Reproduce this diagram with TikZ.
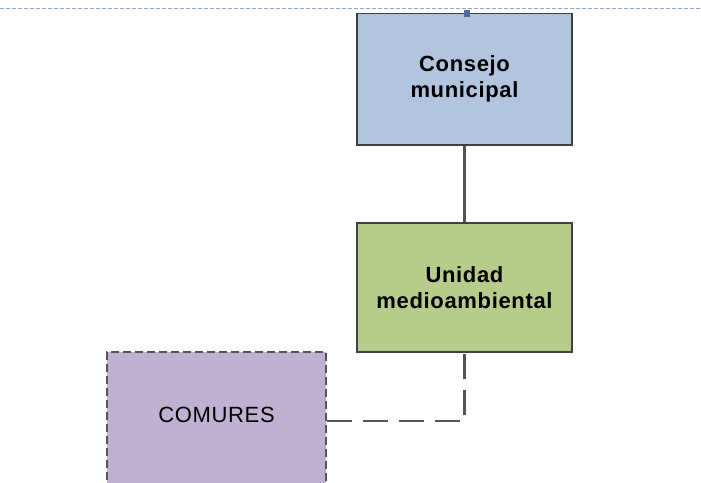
\documentclass[tikz,border=0pt]{standalone}
\usepackage{fontspec}
\setmainfont{Liberation Sans}[LetterSpace=3]
\definecolor{consejofill}{HTML}{B3C5DE}
\definecolor{unidadfill}{HTML}{B7CB8A}
\definecolor{comuresfill}{HTML}{BFB1D2}
\definecolor{boxline}{HTML}{404040}
\definecolor{linkline}{HTML}{555555}
\definecolor{guideline}{HTML}{8FA8CC}
\definecolor{handlefill}{HTML}{4C6C9C}
\tikzset{
	orgbox/.style={draw=boxline, line width=1.5pt, minimum width=215pt, minimum height=130pt,
		align=center, font=\fontsize{22}{26}\selectfont\bfseries},
	linkline/.style={draw=linkline, line width=2.8pt},
}
\begin{document}
\begin{tikzpicture}[x=1pt,y=-1pt]
			\useasboundingbox (0,0) rectangle (701,482);
			
			% Guide line on top
			\draw[guideline, line width=1pt, dash pattern=on 4pt off 2pt] (0,8.5) -- (701,8.5);
			
			% Boxes
			\node[orgbox, fill=consejofill, minimum height=131.5pt] (consejo) at (464.5,79.3) {Consejo\\municipal};
			\node[orgbox, fill=unidadfill, minimum height=129pt] (unidad) at (464.5,287.5) {Unidad\\medioambiental};
			\node[orgbox, fill=comuresfill, draw=linkline, dash pattern=on 8pt off 4pt,
				minimum width=219pt, minimum height=138pt, text depth=12pt,
				font=\fontsize{22}{26}\selectfont] (comures) at (216.5,421) {COMURES};
			
			% Links
			\draw[linkline] (consejo) -- (unidad);
			\draw[linkline, dash pattern=on 25pt off 11pt] (comures.east) -| (unidad.south);
			
			% Selection handle
			\node[fill=handlefill, minimum size=6.5pt, inner sep=0pt] (handle) at (467,13.5) {};
\end{tikzpicture}
\end{document}
